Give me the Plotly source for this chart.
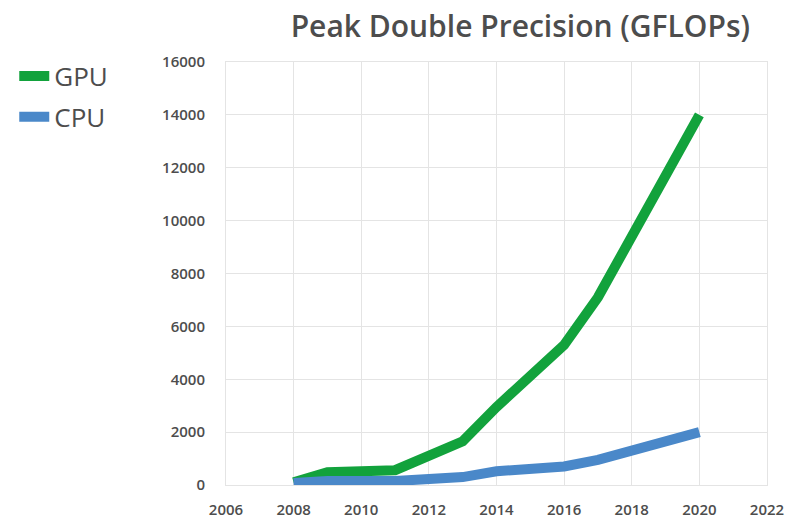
import plotly.graph_objects as go

# Peak double-precision throughput, GFLOPs
gpu_years = [2008, 2009, 2011, 2013, 2014, 2016, 2017, 2020]
gpu_gflops = [100, 480, 560, 1650, 2950, 5300, 7100, 14000]

cpu_years = [2008, 2009, 2011, 2012, 2013, 2014, 2016, 2017, 2020]
cpu_gflops = [80, 150, 150, 200, 300, 520, 700, 950, 2000]

x_ticks = [2006, 2008, 2010, 2012, 2014, 2016, 2018, 2020, 2022]
y_ticks = [0, 2000, 4000, 6000, 8000, 10000, 12000, 14000, 16000]

GREEN = "#12a23c"
BLUE = "#4a88c9"
TEXT = "#4d4d4d"
GRID = "#e4e4e4"

fig = go.Figure()
# GPU first so the CPU line is drawn over it where they meet
fig.add_trace(go.Scatter(x=gpu_years, y=gpu_gflops, mode="lines", name="GPU",
                         legendgroup="gpu",
                         line=dict(color=GREEN, width=10)))
fig.add_trace(go.Scatter(x=cpu_years, y=cpu_gflops, mode="lines", name="CPU",
                         legendgroup="cpu",
                         line=dict(color=BLUE, width=10)))

fig.update_layout(
    width=792, height=526,
    margin=dict(l=226, r=25, t=62, b=41),
    paper_bgcolor="white", plot_bgcolor="white",
    title=dict(text="Peak Double Precision (GFLOPs)",
               font=dict(family="Open Sans", size=30, color=TEXT, weight=600),
               x=0.657, xanchor="center", xref="container",
               y=0.95, yanchor="middle", yref="container"),
    legend=dict(xref="container", yref="container", x=0.018, y=0.9,
                xanchor="left", yanchor="top", traceorder="grouped",
                font=dict(family="Open Sans", size=26, color=TEXT, weight=500),
                itemwidth=30, tracegroupgap=4, bgcolor="rgba(0,0,0,0)"),
    font=dict(family="Open Sans"),
)

fig.update_xaxes(range=[2006, 2022], tickvals=x_ticks, ticktext=[str(v) for v in x_ticks],
                 showgrid=True, gridcolor=GRID, gridwidth=1,
                 showline=True, linecolor=GRID, mirror=True, zeroline=False,
                 automargin=False,
                 ticks="outside", ticklen=11, tickcolor="rgba(0,0,0,0)",
                 tickfont=dict(family="Open Sans", size=15, color=TEXT, weight=600))
fig.update_yaxes(range=[0, 16000], tickvals=y_ticks, ticktext=[str(v) for v in y_ticks],
                 showgrid=True, gridcolor=GRID, gridwidth=1,
                 showline=True, linecolor=GRID, mirror=True, zeroline=False,
                 automargin=False,
                 ticks="outside", ticklen=17, tickcolor="rgba(0,0,0,0)",
                 tickfont=dict(family="Open Sans", size=15, color=TEXT, weight=600))

fig.write_html("out.html")
